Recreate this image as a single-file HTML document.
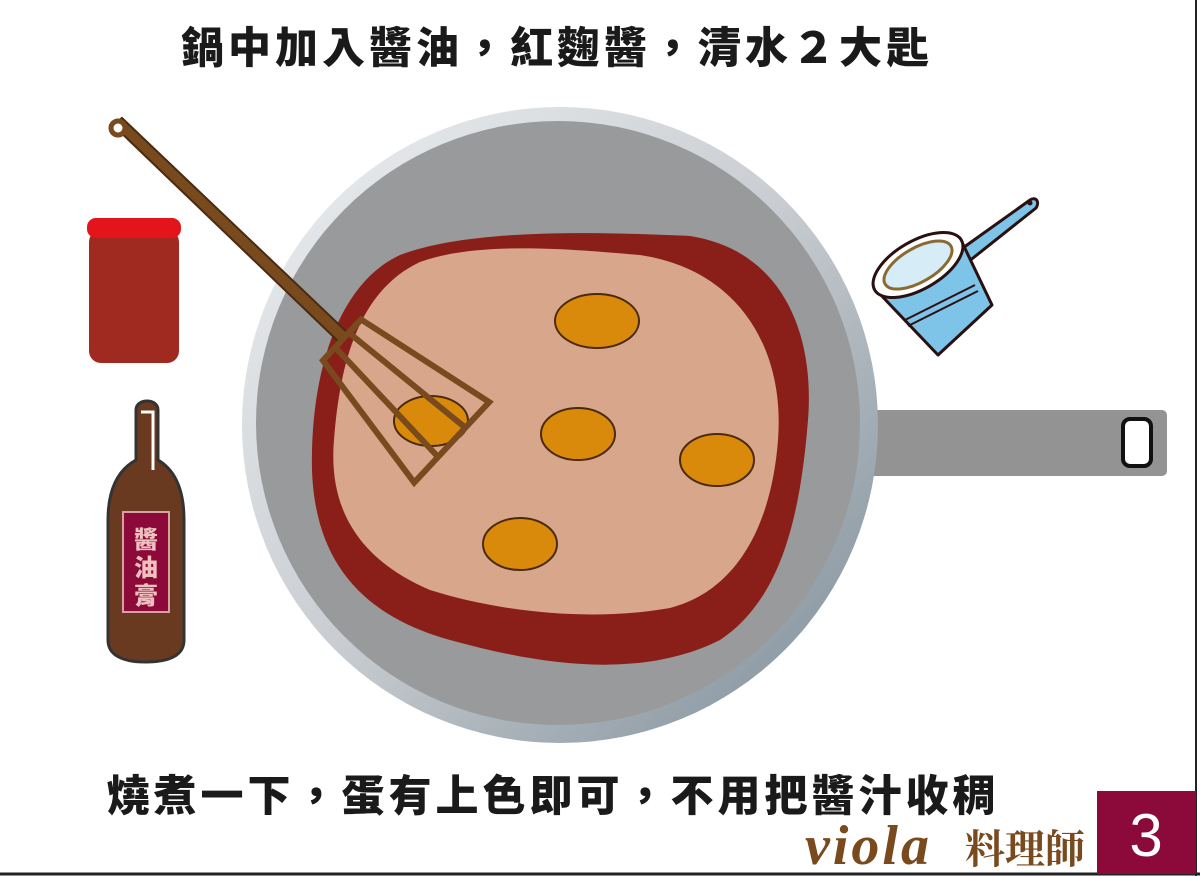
<!DOCTYPE html>
<html><head><meta charset="utf-8"><style>
body{margin:0;background:#fff;}
svg{display:block}
</style></head><body>
<svg width="1200" height="876" viewBox="0 0 1200 876" xmlns="http://www.w3.org/2000/svg">
<defs>
<linearGradient id="rim" x1="0" y1="0" x2="1" y2="1">
<stop offset="0" stop-color="#eef0f2"/><stop offset="0.5" stop-color="#c9cdd1"/><stop offset="1" stop-color="#7a8a96"/>
</linearGradient>
</defs>
<rect width="1200" height="876" fill="#fff"/>
<line x1="1196" y1="0" x2="1196" y2="876" stroke="#222" stroke-width="2"/>
<line x1="0" y1="874" x2="1200" y2="874" stroke="#222" stroke-width="3"/>
<text x="557" y="63" text-anchor="middle" font-family="'Noto Sans CJK TC',sans-serif" font-weight="900" font-size="43" letter-spacing="4" fill="#1a1a1a">鍋中加入醬油，紅麴醬，清水２大匙</text>
<rect x="850" y="410" width="317" height="66" rx="5" fill="#939393"/>
<rect x="1123" y="419" width="28" height="47" rx="7" fill="#fff" stroke="#111" stroke-width="4"/>
<circle cx="560" cy="425" r="318" fill="url(#rim)"/>
<circle cx="558" cy="423" r="302" fill="#999a9b"/>
<path d="M400,255 C470,228 600,232 690,236 C780,250 815,330 808,420 C800,520 780,600 720,640 C640,680 540,665 450,640 C360,615 315,560 312,470 C310,380 335,285 400,255Z" fill="#8a1f1a"/>
<path d="M420,262 C480,240 580,250 640,255 C740,270 785,350 778,440 C772,520 740,590 670,608 C590,622 500,612 430,590 C360,560 328,510 334,440 C340,360 360,290 420,262Z" fill="#d8a68a"/>
<g fill="#d98a0a" stroke="#4a2a10" stroke-width="2">
<ellipse cx="597" cy="321" rx="42" ry="27"/>
<ellipse cx="578" cy="434" rx="37" ry="26"/>
<ellipse cx="717" cy="460" rx="37" ry="26"/>
<ellipse cx="520" cy="544" rx="37" ry="26"/>
<ellipse cx="431" cy="421" rx="37" ry="25"/>
</g>
<g stroke="#4a2a10" fill="#7a4a1f">
<path d="M113,125 L122,118 L350,335 L340,343 Z" stroke-width="2"/>
<circle cx="118" cy="128" r="7" fill="#fff" stroke="#7a4a1f" stroke-width="5"/>
<g transform="translate(342,340) rotate(43)" fill="none" stroke="#7a4a1f" stroke-width="6">
<path d="M0,-28 L150,-55 L150,55 L0,28 Z"/>
<line x1="0" y1="-10" x2="150" y2="-20"/>
<line x1="0" y1="10" x2="150" y2="20"/>
</g>
</g>
<rect x="89" y="230" width="90" height="133" rx="12" fill="#a12a20"/>
<rect x="87" y="218" width="94" height="20" rx="9" fill="#e3141b"/>
<path d="M136,410 C136,398 158,398 158,410 L158,460 C175,470 184,490 184,520 L184,640 C184,655 170,662 146,662 C122,662 108,655 108,640 L108,520 C108,490 118,470 136,460 Z" fill="#6a3a20" stroke="#333" stroke-width="3"/>
<path d="M141,412 L153,412 L153,470" fill="none" stroke="#fff" stroke-width="3"/>
<rect x="123" y="512" width="46" height="100" fill="#8b0a3a" stroke="#d8a0a0" stroke-width="2"/>
<text font-family="'Noto Sans CJK TC',sans-serif" font-weight="900" font-size="24" fill="#f0c0c0" text-anchor="middle"><tspan x="146" y="548">醬</tspan><tspan x="146" y="576">油</tspan><tspan x="146" y="604">膏</tspan></text>
<g stroke="#2a1010" stroke-width="3" stroke-linejoin="round">
<path d="M960,250 L1030,200 C1036,196 1040,202 1036,208 L968,262 Z" fill="#7ec3e8"/>
<path d="M878,292 L960,238 L992,305 L938,355 Z" fill="#7ec3e8"/>
<path d="M905,320 L975,285" fill="none" stroke-width="2"/>
<path d="M908,326 L978,291" fill="none" stroke-width="2"/>
<ellipse cx="918" cy="265" rx="50" ry="24" transform="rotate(-30 918 265)" fill="#fff"/>
<ellipse cx="918" cy="265" rx="38" ry="17" transform="rotate(-30 918 265)" fill="#d6ecf7" stroke="#8a6a30"/>
</g>
<circle cx="1030" cy="203" r="2.5" fill="#2a1010"/>
<text x="553" y="811" text-anchor="middle" font-family="'Noto Sans CJK TC',sans-serif" font-weight="900" font-size="43" letter-spacing="4" fill="#1a1a1a">燒煮一下，蛋有上色即可，不用把醬汁收稠</text>
<text x="805" y="864" font-family="'Liberation Serif',serif" font-style="italic" font-weight="bold" font-size="56" letter-spacing="3" fill="#7a4a1f">viola</text>
<text x="965" y="863" font-family="'Noto Serif CJK SC',serif" font-weight="700" font-size="40" fill="#7a4a1f">料理師</text>
<rect x="1097" y="791" width="99" height="83" fill="#8b0a3a"/>
<text x="1146" y="856" text-anchor="middle" font-family="'Liberation Sans',sans-serif" font-size="60" fill="#fff">3</text>
</svg>
</body></html>
